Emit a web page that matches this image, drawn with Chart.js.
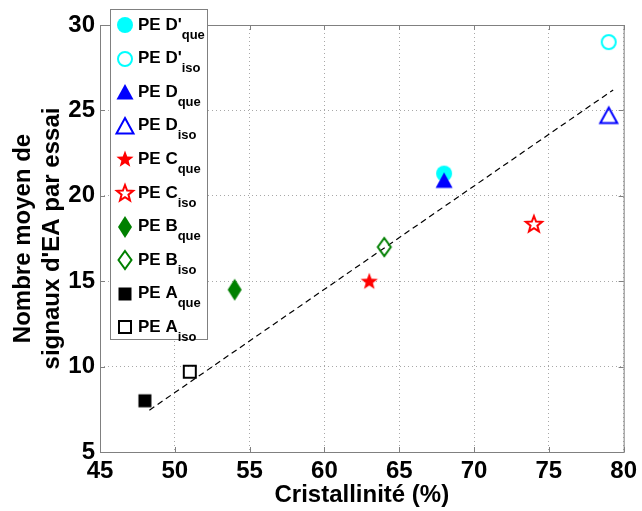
<!DOCTYPE html>
<html>
<head>
<meta charset="utf-8">
<script src="https://cdn.jsdelivr.net/npm/chart.js@4.4.1/dist/chart.umd.min.js"></script>
<style>
  html, body { margin: 0; padding: 0; background: #fff; }
  #wrap { width: 642px; height: 511px; }
</style>
</head>
<body>
<div id="wrap"><canvas id="chart" width="642" height="511"></canvas></div>
<script>
// Data
const seriesNames = ["PE D'", "PE D'", "PE D", "PE D", "PE C", "PE C", "PE B", "PE B", "PE A", "PE A"];
const seriesSubs = ["que", "iso", "que", "iso", "que", "iso", "que", "iso", "que", "iso"];
const crystallinity = [68, 79, 68, 79, 63, 74, 54, 64, 48, 51];
const avgSignals = [21.3, 29, 20.9, 24.7, 15, 18.35, 14.5, 17, 8, 9.7];
const seriesColors = ["#00ffff", "#00ffff", "#0000ff", "#0000ff", "#ff0000", "#ff0000", "#008000", "#008000", "#000000", "#000000"];
const seriesShapes = ["circle", "circle", "triangle", "triangle", "star", "star", "diamond", "diamond", "square", "square"];
const seriesFilled = [true, false, true, false, true, false, true, false, true, false];

// linear fit line (dashed)
const fitX = [48.3, 79.3];
const fitY = [7.45, 26.2];

const xTicks = [45, 50, 55, 60, 65, 70, 75, 80];
const yTicks = [5, 10, 15, 20, 25, 30];

const FONT = "'Liberation Sans', Arial, sans-serif";
const AXIS_GRAY = "#808080";

// Build a marker image (MATLAB-like symbols)
const makeMarker = (shape, color, filled) => {
  const c = document.createElement("canvas");
  c.width = 24;
  c.height = 24;
  const g = c.getContext("2d");
  g.fillStyle = color;
  g.strokeStyle = color;
  g.lineWidth = 2;
  g.lineJoin = "miter";
  g.beginPath();
  if (shape === "circle") {
    g.arc(12, 12, filled ? 8 : 7, 0, Math.PI * 2);
  } else if (shape === "triangle") {
    g.moveTo(12, 4);
    g.lineTo(20.5, 19.5);
    g.lineTo(3.5, 19.5);
    g.closePath();
  } else if (shape === "star") {
    const ro = filled ? 9 : 8.5, ri = filled ? 3.8 : 3.6;
    for (let i = 0; i < 10; i++) {
      const r = i % 2 === 0 ? ro : ri;
      const a = -Math.PI / 2 + (i * Math.PI) / 5;
      const px = 12 + r * Math.cos(a);
      const py = 12.5 + r * Math.sin(a);
      if (i === 0) g.moveTo(px, py);
      else g.lineTo(px, py);
    }
    g.closePath();
  } else if (shape === "diamond") {
    if (filled) {
      g.moveTo(12, 1); g.lineTo(19, 12); g.lineTo(12, 23); g.lineTo(5, 12);
    } else {
      g.moveTo(12, 3); g.lineTo(18.5, 12); g.lineTo(12, 21); g.lineTo(5.5, 12);
    }
    g.closePath();
  } else if (shape === "square") {
    if (filled) g.rect(5.5, 5.5, 13, 13);
    else g.rect(6, 6, 12, 12);
  }
  if (filled) g.fill();
  else g.stroke();
  return c;
};

const markers = seriesShapes.map((s, i) => makeMarker(s, seriesColors[i], seriesFilled[i]));

// Frame, inner ticks and legend with subscripts
const framePlugin = {
  id: "frame",
  afterDraw(chart) {
    const { ctx, chartArea: a, scales } = chart;
    ctx.save();
    ctx.strokeStyle = AXIS_GRAY;
    ctx.lineWidth = 1;
    ctx.strokeRect(a.left + 0.5, a.top + 0.5, a.right - a.left, a.bottom - a.top);
    ctx.beginPath();
    xTicks.forEach((v) => {
      const px = Math.round(scales.x.getPixelForValue(v)) + 0.5;
      ctx.moveTo(px, a.bottom); ctx.lineTo(px, a.bottom - 5);
      ctx.moveTo(px, a.top); ctx.lineTo(px, a.top + 5);
    });
    yTicks.forEach((v) => {
      const py = Math.round(scales.y.getPixelForValue(v)) + 0.5;
      ctx.moveTo(a.left, py); ctx.lineTo(a.left + 5, py);
      ctx.moveTo(a.right, py); ctx.lineTo(a.right - 5, py);
    });
    ctx.stroke();

    // legend box
    const lx = 110, ly = 9, lw = 97, lh = 330;
    ctx.fillStyle = "#fff";
    ctx.fillRect(lx, ly, lw, lh);
    ctx.strokeRect(lx + 0.5, ly + 0.5, lw, lh);
    ctx.fillStyle = "#000";
    ctx.textBaseline = "middle";
    ctx.textAlign = "left";
    seriesNames.forEach((name, i) => {
      const cy = 25 + i * 33.6;
      ctx.drawImage(markers[i], 125 - 12, Math.round(cy) - 12);
      ctx.font = `bold 17px ${FONT}`;
      ctx.fillText(name, 138, cy);
      const w = ctx.measureText(name).width;
      ctx.font = `bold 13px ${FONT}`;
      ctx.fillText(seriesSubs[i], 138 + w, cy + 10);
    });
    ctx.restore();
  },
};

const datasets = [
  {
    label: "fit",
    type: "line",
    data: fitX.map((x, i) => ({ x, y: fitY[i] })),
    borderColor: "#000",
    borderWidth: 1.2,
    borderDash: [6, 4],
    pointRadius: 0,
    fill: false,
    order: 100,
  },
  // later series are drawn on top, like the original plot
  ...seriesNames.map((name, i) => ({
    label: name + seriesSubs[i],
    data: [{ x: crystallinity[i], y: avgSignals[i] }],
    pointStyle: markers[i],
    pointRadius: 10,
    order: 20 - i,
  })),
];

new Chart(document.getElementById("chart"), {
  type: "scatter",
  data: { datasets },
  options: {
    responsive: false,
    animation: false,
    layout: { padding: { left: 0, right: 12, top: 25, bottom: 0 } },
    plugins: { legend: { display: false }, tooltip: { enabled: false } },
    scales: {
      x: {
        type: "linear",
        min: 45,
        max: 80,
        afterBuildTicks: (s) => { s.ticks = xTicks.map((v) => ({ value: v })); },
        afterFit: (s) => { s.height = 59; },
        grid: { color: "#a8a8a8", drawTicks: false },
        border: { display: false, dash: [1, 3] },
        ticks: { color: "#000", padding: 5, font: { family: FONT, size: 24, weight: "bold" } },
        title: {
          display: true,
          text: "Cristallinité (%)",
          color: "#000",
          padding: { top: 0, bottom: 1 },
          font: { family: FONT, size: 24, weight: "bold", lineHeight: 1.2 },
        },
      },
      y: {
        type: "linear",
        min: 5,
        max: 30,
        afterBuildTicks: (s) => { s.ticks = yTicks.map((v) => ({ value: v })); },
        afterFit: (s) => { s.width = 100; },
        grid: { color: "#a8a8a8", drawTicks: false },
        border: { display: false, dash: [1, 3] },
        ticks: { color: "#000", padding: 5, font: { family: FONT, size: 24, weight: "bold" } },
        title: {
          display: true,
          text: ["Nombre moyen de", "signaux d'EA par essai"],
          color: "#000",
          padding: { top: 9, bottom: 0 },
          font: { family: FONT, size: 24, weight: "bold", lineHeight: 1.2 },
        },
      },
    },
  },
  plugins: [framePlugin],
});
</script>
</body>
</html>
